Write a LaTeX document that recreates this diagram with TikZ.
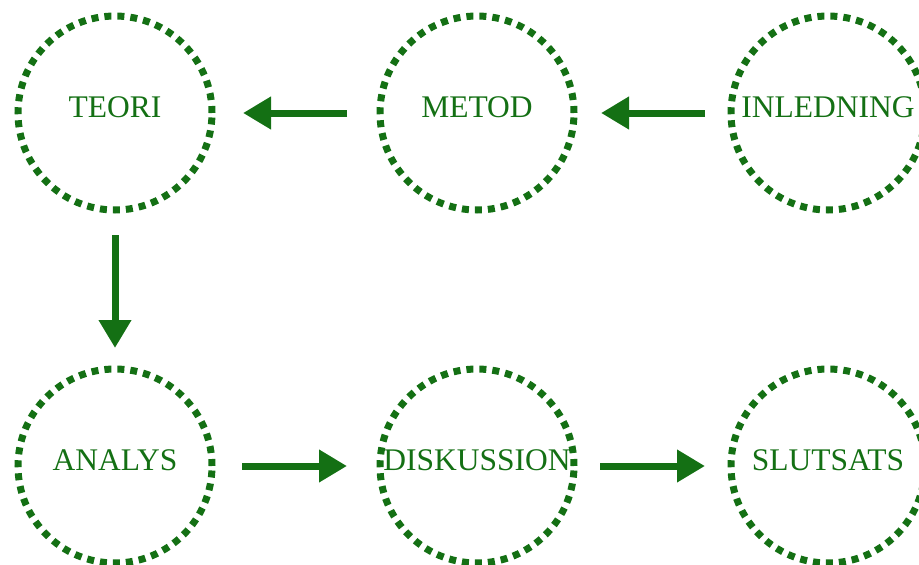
\documentclass[tikz,border=0pt]{standalone}
\usepackage{fontspec}
\setmainfont{Liberation Serif}
\usetikzlibrary{arrows.meta}
\definecolor{leaf}{RGB}{20,112,20}
\tikzset{
  stage/.style={circle, draw=leaf, line width=7pt, dash pattern=on 7pt off 6pt,
    minimum size=194pt, inner sep=0pt, outer sep=0pt, text=leaf,
    font=\fontsize{31.5}{31.5}\selectfont, text height=21pt, text depth=12pt},
  flow/.style={draw=leaf, line width=7pt,
    -{Triangle[length=28pt,width=31pt]}}
}
\begin{document}
\begin{tikzpicture}[x=1pt,y=-1pt]
  \useasboundingbox (0,0) rectangle (919,565);
  \clip (0,0) rectangle (919,565);
  % top row, read right to left
  \node[stage] (teori)  at (115,113) {TEORI};
  \node[stage] (metod)  at (477,113) {METOD};
  \node[stage] (inled)  at (828,113) {INLEDNING};
  % bottom row, read left to right
  \node[stage] (analys) at (115,466) {ANALYS};
  \node[stage] (disk)   at (477,466) {DISKUSSION};
  \node[stage] (slut)   at (828,466) {SLUTSATS};
  % flow between the stages
  \draw[flow, shorten <=26pt, shorten >=27pt] (inled) -- (metod);
  \draw[flow, shorten <=33pt, shorten >=31pt] (metod) -- (teori);
  \draw[flow, shorten <=25pt, shorten >=21pt] (teori) -- (analys);
  \draw[flow, shorten <=30pt, shorten >=33pt] (analys) -- (disk);
  \draw[flow, shorten <=26pt, shorten >=26pt] (disk) -- (slut);
\end{tikzpicture}
\end{document}
